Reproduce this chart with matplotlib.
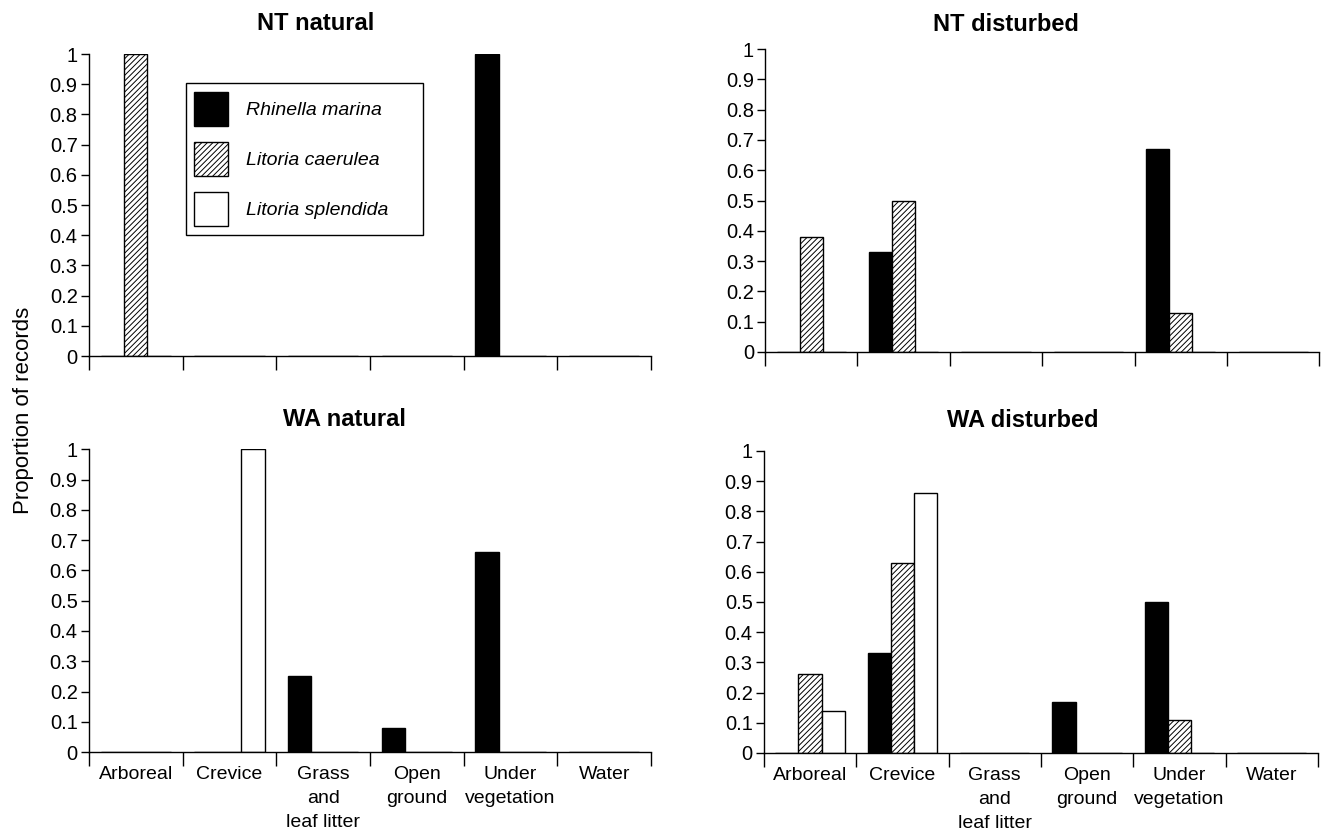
import numpy as np
import matplotlib
matplotlib.use('Agg')
import matplotlib.pyplot as plt

plt.rcParams['font.family'] = ['Liberation Sans', 'DejaVu Sans']
plt.rcParams['hatch.linewidth'] = 0.7

# habitat categories
habitats = ['Arboreal', 'Crevice', 'Grass\nand\nleaf litter', 'Open\nground', 'Under\nvegetation', 'Water']
species = ['Rhinella marina', 'Litoria caerulea', 'Litoria splendida']

# proportion of records per habitat
nt_nat_marina = [0, 0, 0, 0, 1.0, 0]
nt_nat_caerulea = [1.0, 0, 0, 0, 0, 0]
nt_nat_splendida = [0, 0, 0, 0, 0, 0]

nt_dis_marina = [0, 0.33, 0, 0, 0.67, 0]
nt_dis_caerulea = [0.38, 0.50, 0, 0, 0.13, 0]
nt_dis_splendida = [0, 0, 0, 0, 0, 0]

wa_nat_marina = [0, 0, 0.25, 0.08, 0.66, 0]
wa_nat_caerulea = [0, 0, 0, 0, 0, 0]
wa_nat_splendida = [0, 1.0, 0, 0, 0, 0]

wa_dis_marina = [0, 0.33, 0, 0.17, 0.50, 0]
wa_dis_caerulea = [0.26, 0.63, 0, 0, 0.11, 0]
wa_dis_splendida = [0.14, 0.86, 0, 0, 0, 0]

panels = [
    ('NT natural', [nt_nat_marina, nt_nat_caerulea, nt_nat_splendida]),
    ('NT disturbed', [nt_dis_marina, nt_dis_caerulea, nt_dis_splendida]),
    ('WA natural', [wa_nat_marina, wa_nat_caerulea, wa_nat_splendida]),
    ('WA disturbed', [wa_dis_marina, wa_dis_caerulea, wa_dis_splendida]),
]

# axes rectangles (left, bottom, width, height) in figure fractions
rects = [
    [0.067, 0.572, 0.424, 0.363],
    [0.577, 0.577, 0.418, 0.364],
    [0.067, 0.096, 0.424, 0.364],
    [0.576, 0.095, 0.418, 0.363],
]
# titles are not centred in the original
title_x = [0.403, 0.434, 0.455, 0.467]
title_pad = [17, 13, 17, 17]

styles = [
    dict(facecolor='black', edgecolor='black', hatch=None),
    dict(facecolor='white', edgecolor='black', hatch='//////'),
    dict(facecolor='white', edgecolor='black', hatch=None),
]

fig = plt.figure(figsize=(13.26, 8.32), dpi=100)

x = np.arange(len(habitats)) + 0.5
w = 0.25
yt = np.arange(0, 1.01, 0.1)

axes = []
for i, (title, series) in enumerate(panels):
    ax = fig.add_axes(rects[i])
    for j, vals in enumerate(series):
        ax.bar(x + (j - 1) * w, vals, width=w, linewidth=1.0, label=species[j], **styles[j])
    ax.set_xlim(0, len(habitats))
    ax.set_ylim(0, 1)
    ax.set_yticks(yt)
    ax.set_yticklabels(['%g' % round(v, 1) for v in yt], fontsize=14.5)
    # boundary ticks on x, labels at category centres
    ax.set_xticks(np.arange(len(habitats) + 1))
    ax.set_xticklabels([])
    ax.set_xticks(x, minor=True)
    if i >= 2:
        ax.set_xticklabels(habitats, minor=True, fontsize=14, linespacing=1.55)
    ax.tick_params(axis='x', which='minor', length=0, pad=10)
    ax.tick_params(axis='x', which='major', length=10, width=1, direction='out')
    ax.tick_params(axis='y', length=6, width=1, direction='out', pad=2)
    for s in ['top', 'right']:
        ax.spines[s].set_visible(False)
    ax.spines['left'].set_linewidth(1)
    ax.spines['bottom'].set_linewidth(1)
    ax.set_title(title, fontsize=17, fontweight='bold', x=title_x[i], pad=title_pad[i])
    axes.append(ax)

# legend in the first panel
leg = axes[0].legend(loc='upper left', bbox_to_anchor=(0.172, 0.412, 0.422, 0.493), mode='expand',
                     borderaxespad=0, fancybox=False, edgecolor='black', framealpha=1,
                     handlelength=1.75, handleheight=2.35, handletextpad=0.9, labelspacing=0.8,
                     borderpad=0.45, prop={'size': 14, 'style': 'italic'})
leg.get_frame().set_linewidth(1)

fig.text(0.018, 0.507, 'Proportion of records', rotation=90, va='center', ha='center', fontsize=16)

fig.savefig('out.png', dpi=100)
